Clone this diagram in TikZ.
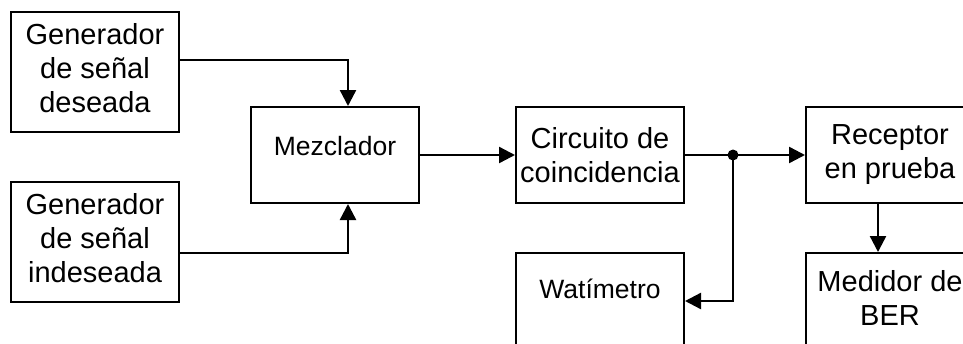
\documentclass[tikz,border=0pt]{standalone}
\usepackage{fontspec}
\setmainfont{Liberation Sans}
\usetikzlibrary{arrows.meta,positioning}

\begin{document}
\begin{tikzpicture}[-,>={Triangle[length=16pt,width=16pt]},x=1pt,y=1pt,
  line width=2.4pt,node distance=48pt,
  block node/.style={rectangle,draw,line width=2pt,minimum width=168pt,minimum height=96pt,
    inner sep=2pt,align=center,font=\fontsize{29}{34}\selectfont},
  small node/.style={block node,font=\fontsize{26.5}{32}\selectfont,text depth=18pt}]
  \path[use as bounding box,clip] (0,0) rectangle (963,-343);

  \node[block node,minimum height=120pt,text depth=8pt] (gd) at (95,-72) {Generador\\de señal\\deseada};
  \node[block node,minimum height=120pt,text depth=8pt] (gi) [below=of gd] {Generador\\de señal\\indeseada};
  \node[small node] (mez) at (335,-155) {Mezclador};
  \node[block node] (coin) [right=95pt of mez] {Circuito de\\coincidencia};
  \node[block node] (rec) [right=120pt of coin] {Receptor\\en prueba};
  \node[small node,text depth=24pt] (wat) [below=of coin] {Watímetro};
  \node[block node,text depth=7pt] (med) [below=of rec] {Medidor de\\BER};
  \coordinate[right=48pt of coin.east] (tap);

  \draw[->] ([yshift=12pt]gd.east) -| ([xshift=13pt]mez.north);
  \draw[->] ([yshift=-11pt]gi.east) -| ([xshift=13pt]mez.south);
  \draw[->] (mez) -- (coin);
  \draw[->] (coin) -- (rec);
  \draw[->] (tap) |- (wat);
  \draw[->] ([xshift=-12pt]rec.south) -- ([xshift=-12pt]med.north);
  \fill (tap) circle (5.5pt);
\end{tikzpicture}
\end{document}
